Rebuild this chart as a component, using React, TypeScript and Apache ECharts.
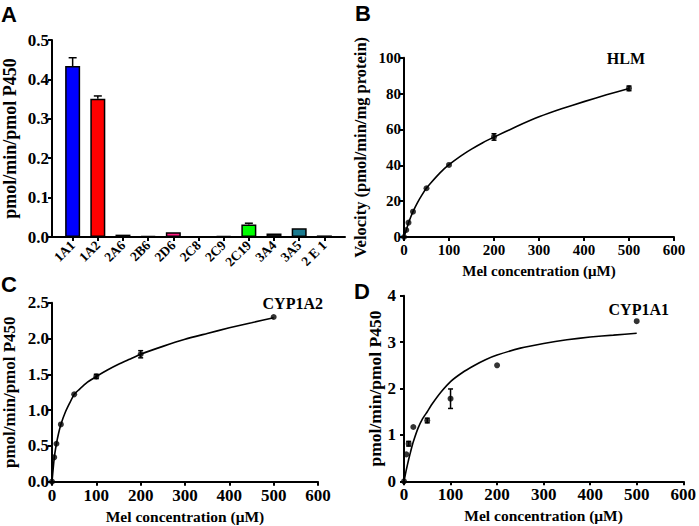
import React, { useEffect, useRef } from "react";
import * as echarts from "echarts";

// ---- Panel A: isoform screening ----
const isoforms = ["1A1", "1A2", "2A6", "2B6", "2D6", "2C8", "2C9", "2C19", "3A4", "3A5", "2 E 1"];
const isoformRates = [0.434, 0.351, 0.006, 0.002, 0.012, 0, 0.002, 0.032, 0.009, 0.022, 0.004];
const isoformErrors = [0.021, 0.007, 0.001, 0.001, 0.001, 0, 0.001, 0.003, 0.001, 0.001, 0.001];
const isoformColors = ["#0000ff", "#ff0000", "#6b5a1e", "#888888", "#ff1a80", "#ffffff", "#888888", "#00ff00", "#222222", "#1a7a8f", "#555555"];
const isoformTicks = [0, 1, 2, 3, 4, 5, 6, 7, 8, 9, 10];

// ---- Kinetics: shared concentrations ----
const concentrations = [0, 5, 10, 20, 50, 100, 200, 500];
const fitConcentrations = [0, 5, 10, 15, 20, 30, 40, 50, 60, 80, 100, 125, 150, 175, 200, 250, 300, 350, 400, 450, 500];

// Panel B: HLM
const hlmVelocity = [0, 3.9, 8.0, 14.1, 27.2, 40.2, 55.8, 82.9];
const hlmError = [0, 0, 0, 0, 0, 0, 1.8, 1.3];
const hlmFit = [0, 3.8, 7.8, 11.2, 14.2, 19.2, 23.5, 27.3, 30.3, 35.8, 40.3, 45.0, 49.0, 52.6, 55.7, 61.6, 67.0, 71.5, 75.5, 79.3, 82.8];

// Panel C: CYP1A2
const cyp1a2Rate = [0, 0.34, 0.53, 0.8, 1.22, 1.47, 1.78, 2.3];
const cyp1a2Error = [0, 0, 0, 0, 0, 0.03, 0.05, 0];
const cyp1a2Fit = [0, 0.33, 0.53, 0.68, 0.8, 0.97, 1.1, 1.22, 1.28, 1.39, 1.47, 1.56, 1.64, 1.71, 1.78, 1.89, 1.99, 2.07, 2.15, 2.22, 2.29];

// Panel D: CYP1A1
const cyp1a1Rate = [0, 0.58, 0.81, 1.17, 1.31, 1.78, 2.5, 3.45];
const cyp1a1Error = [0, 0, 0.05, 0, 0.05, 0.21, 0, 0];
const cyp1a1Fit = [0, 0.25, 0.47, 0.67, 0.85, 1.14, 1.35, 1.5, 1.66, 1.93, 2.15, 2.34, 2.49, 2.62, 2.72, 2.87, 2.97, 3.05, 3.11, 3.15, 3.19];

const SERIF = "Liberation Serif";

function makeErrRender(cap: number, twoSided: boolean) {
  return (params: any, api: any) => {
    const x = api.value(0);
    const lo = api.value(1);
    const hi = api.value(2);
    const p1 = api.coord([x, lo]);
    const p2 = api.coord([x, hi]);
    const style = { stroke: "#000", lineWidth: 1.5 };
    const children: any[] = [
      { type: "line", shape: { x1: p1[0], y1: p1[1], x2: p2[0], y2: p2[1] }, style },
      { type: "line", shape: { x1: p2[0] - cap, y1: p2[1], x2: p2[0] + cap, y2: p2[1] }, style },
    ];
    if (twoSided) {
      children.push({ type: "line", shape: { x1: p1[0] - cap, y1: p1[1], x2: p1[0] + cap, y2: p1[1] }, style });
    }
    return { type: "group", children };
  };
}

function axisBase(fontSize: number, nameSize: number) {
  return {
    axisLine: { show: true, onZero: false, lineStyle: { color: "#000", width: 2 } },
    axisTick: { show: true, inside: false, length: 4, lineStyle: { color: "#000", width: 2 } },
    splitLine: { show: false },
    axisLabel: { color: "#000", fontFamily: SERIF, fontWeight: "bold", fontSize, margin: 3 },
    nameTextStyle: { color: "#000", fontFamily: SERIF, fontWeight: "bold", fontSize: nameSize },
  };
}

function concAxis(gridIndex: number, fontSize: number, nameSize: number, nameGap: number) {
  const b = axisBase(fontSize, nameSize);
  return {
    ...b,
    type: "value",
    gridIndex,
    min: 0,
    max: 600,
    interval: 100,
    name: "Mel concentration (μM)",
    nameLocation: "middle",
    nameGap,
    axisLabel: { ...b.axisLabel, margin: 5 },
  };
}

function yAxis(gridIndex: number, min: number, max: number, interval: number, name: string, nameGap: number, fontSize: number, nameSize: number, digits: number, margin: number) {
  const b = axisBase(fontSize, nameSize);
  return {
    ...b,
    type: "value",
    gridIndex,
    min,
    max,
    interval,
    name,
    nameLocation: "middle",
    nameGap,
    axisLabel: { ...b.axisLabel, margin, formatter: (v: number) => v.toFixed(digits) },
  };
}

function kineticSeries(idx: number, values: number[], errors: number[], fit: number[]) {
  return [
    {
      type: "line",
      xAxisIndex: idx,
      yAxisIndex: idx,
      data: fitConcentrations.map((c, i) => [c, fit[i]]),
      smooth: 0.15,
      showSymbol: false,
      symbol: "none",
      lineStyle: { color: "#000", width: 1.6 },
      z: 2,
    },
    {
      type: "scatter",
      xAxisIndex: idx,
      yAxisIndex: idx,
      data: concentrations.map((c, i) => [c, values[i]]),
      symbol: "circle",
      symbolSize: 6,
      itemStyle: { color: "#000" },
      z: 4,
    },
    {
      type: "custom",
      xAxisIndex: idx,
      yAxisIndex: idx,
      renderItem: makeErrRender(2.5, true),
      encode: { x: 0, y: [1, 2] },
      data: concentrations
        .map((c, i) => [c, values[i] - errors[i], values[i] + errors[i], errors[i]])
        .filter((d) => d[3] > 0),
      z: 3,
    },
  ];
}

function label(text: string, x: number, y: number, font: string, align: string, vAlign: string) {
  return {
    type: "text",
    x,
    y,
    style: { text, font, fill: "#000", align, verticalAlign: vAlign, textAlign: align, textVerticalAlign: vAlign },
  };
}

export default function App() {
  const ref = useRef<HTMLDivElement>(null);
  useEffect(() => {
    if (!ref.current) return;
    const chart = echarts.init(ref.current, undefined, { renderer: "svg" });
    const aBase = axisBase(13, 18);
    const option: any = {
      animation: false,
      backgroundColor: "#fff",
      grid: [
        { left: 48, top: 40, width: 297, height: 197 },
        { left: 404, top: 57.7, width: 270, height: 179.3 },
        { left: 48, top: 302.7, width: 270, height: 179 },
        { left: 404, top: 295.7, width: 281, height: 185.6 },
      ],
      xAxis: [
        {
          ...aBase,
          type: "value",
          gridIndex: 0,
          min: -0.82,
          max: 10.82,
          axisTick: { ...aBase.axisTick, customValues: isoformTicks },
          axisLabel: {
            ...aBase.axisLabel,
            customValues: isoformTicks,
            rotate: 45,
            margin: 6,
            fontSize: 13.5,
            formatter: (v: number) => isoforms[Math.round(v)] ?? "",
          },
        },
        concAxis(1, 15, 15, 26),
        concAxis(2, 17, 15.5, 27),
        concAxis(3, 17, 15.5, 26),
      ],
      yAxis: [
        yAxis(0, 0, 0.5, 0.1, "pmol/min/pmol P450", 33, 17, 18, 1, 3),
        yAxis(1, 0, 100, 20, "Velocity (pmol/min/mg protein)", 35, 15, 16.5, 0, 3),
        yAxis(2, 0, 2.5, 0.5, "pmol/min/pmol P450", 34, 17, 17, 1, 3),
        yAxis(3, 0, 4, 1, "pmol/min/pmol P450", 20, 17, 17.5, 0, 8),
      ],
      series: [
        {
          type: "bar",
          xAxisIndex: 0,
          yAxisIndex: 0,
          barWidth: 15,
          data: isoforms.map((_, i) => ({
            value: [i, isoformRates[i]],
            itemStyle: { color: isoformColors[i] },
          })),
          itemStyle: { borderColor: "#000", borderWidth: 1.5 },
          z: 3,
        },
        {
          type: "custom",
          xAxisIndex: 0,
          yAxisIndex: 0,
          renderItem: makeErrRender(4, false),
          encode: { x: 0, y: [1, 2] },
          data: isoforms
            .map((_, i) => [i, isoformRates[i], isoformRates[i] + isoformErrors[i], isoformErrors[i]])
            .filter((d) => d[3] > 0.002),
          z: 2,
        },
        ...kineticSeries(1, hlmVelocity, hlmError, hlmFit),
        ...kineticSeries(2, cyp1a2Rate, cyp1a2Error, cyp1a2Fit),
        ...kineticSeries(3, cyp1a1Rate, cyp1a1Error, cyp1a1Fit),
      ],
      graphic: [
        label("A", 1, 3, "bold 22px Liberation Sans", "left", "top"),
        label("B", 355, 2, "bold 22px Liberation Sans", "left", "top"),
        label("C", 1, 273, "bold 22px Liberation Sans", "left", "top"),
        label("D", 354, 280, "bold 22px Liberation Sans", "left", "top"),
        label("HLM", 645, 58, `bold 16px ${SERIF}`, "right", "middle"),
        label("CYP1A2", 323, 303, `bold 16px ${SERIF}`, "right", "middle"),
        label("CYP1A1", 669, 309, `bold 16px ${SERIF}`, "right", "middle"),
      ],
    };
    chart.setOption(option);
    return () => chart.dispose();
  }, []);
  return (
    <div
      ref={ref}
      style={{ position: "fixed", left: 0, top: 0, width: 699, height: 526, background: "#fff" }}
    />
  );
}
